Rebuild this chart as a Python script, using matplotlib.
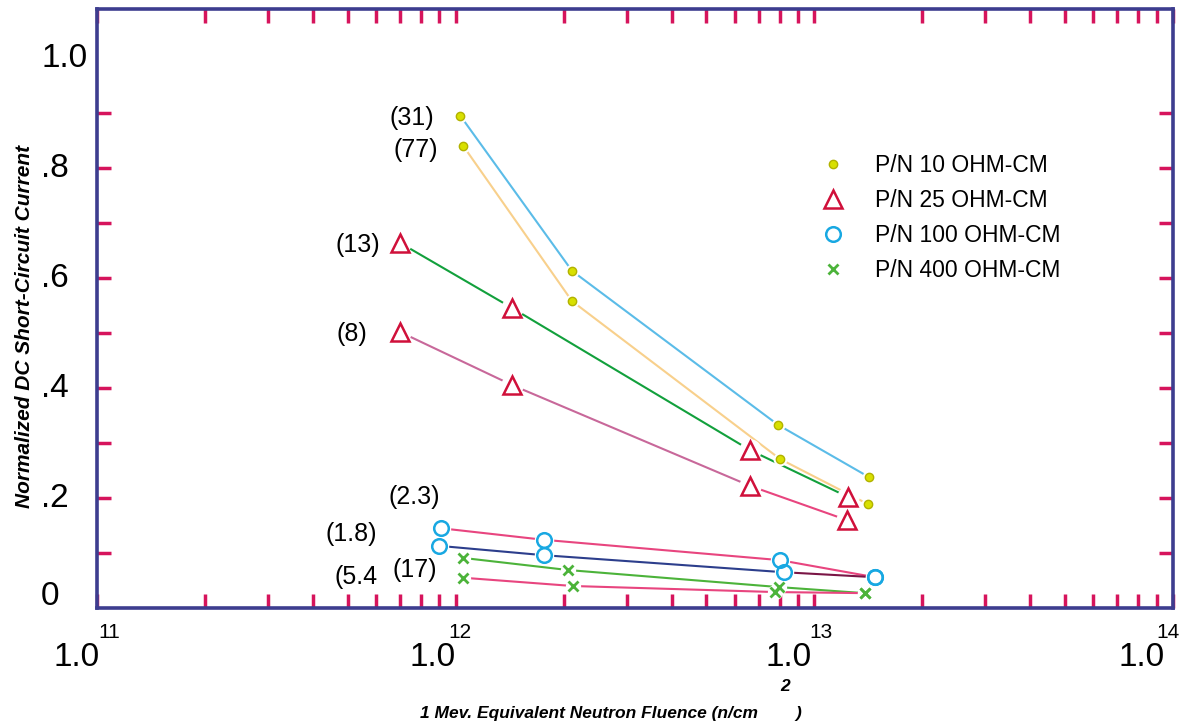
import numpy as np
import matplotlib
matplotlib.use("agg")
import matplotlib.pyplot as plt
from matplotlib.lines import Line2D
from matplotlib.ticker import NullFormatter

plt.rcParams['font.family'] = ['Liberation Sans', 'DejaVu Sans']

# fluence (n/cm^2) vs normalized DC short-circuit current
x10a = [1.03e12, 2.11e12, 7.92e12, 1.42e13]
y10a = [0.895, 0.613, 0.333, 0.238]
x10b = [1.05e12, 2.11e12, 8.02e12, 1.41e13]
y10b = [0.840, 0.558, 0.271, 0.189]
x25a = [6.99e11, 1.44e12, 6.62e12, 1.24e13]
y25a = [0.664, 0.545, 0.287, 0.202]
x25b = [6.99e11, 1.44e12, 6.62e12, 1.23e13]
y25b = [0.502, 0.405, 0.222, 0.160]
x100a = [9.10e11, 1.76e12, 8.02e12, 1.475e13]
y100a = [0.145, 0.124, 0.087, 0.056]
x100b = [8.98e11, 1.76e12, 8.23e12, 1.475e13]
y100b = [0.113, 0.096, 0.065, 0.056]
x400a = [1.05e12, 2.06e12, 7.97e12, 1.38e13]
y400a = [0.091, 0.069, 0.038, 0.027]
x400b = [1.05e12, 2.12e12, 7.77e12, 1.38e13]
y400b = [0.055, 0.040, 0.029, 0.027]

legend_labels = ['P/N 10 OHM-CM', 'P/N 25 OHM-CM', 'P/N 100 OHM-CM', 'P/N 400 OHM-CM']
run_labels = ['(31)', '(77)', '(13)', '(8)', '(2.3)', '(1.8)', '(17)', '(5.4']
ytick_vals = [0, 0.2, 0.4, 0.6, 0.8, 1.0]
ytick_text = ['0', '.2', '.4', '.6', '.8', '1.0']
xdecades = [11, 12, 13, 14]

PX = 0.72  # points per pixel at dpi 100
frame = '#3d3d8f'
tickc = '#d6145c'

# marker styles
dot = dict(marker='o', ms=6, mfc='#d8e000', mec='#b2b200', mew=1.0, ls='none')
tri = dict(marker='^', ms=13, mfc='none', mec='#d0103a', mew=1.8, ls='none')
circ = dict(marker='o', ms=10.5, mfc='none', mec='#18a8e2', mew=1.8, ls='none')
cross = dict(marker='x', ms=7.5, mec='#4cb33a', mew=2.0, ls='none')

series = [
    (x10a, y10a, ['#5bbce8'] * 3, dot, 9),
    (x10b, y10b, ['#f8d08c'] * 3, dot, 9),
    (x25a, y25a, ['#12a03c'] * 3, tri, 15),
    (x25b, y25b, ['#c8689a', '#c8689a', '#e8457f'], tri, 15),
    (x100a, y100a, ['#e8457f'] * 3, circ, 13),
    (x100b, y100b, ['#2c3e8c', '#2c3e8c', '#7a1545'], circ, 13),
    (x400a, y400a, ['#4cb33a'] * 3, cross, 10),
    (x400b, y400b, ['#e8457f'] * 3, cross, 10),
]

fig = plt.figure(figsize=(11.87, 7.21), dpi=100)
ax = fig.add_axes([97 / 1187, 113 / 721, 1076 / 1187, 599 / 721])
ax.set_xscale('log')
ax.set_xlim(1e11, 1e14)
ax.set_ylim(0, 1.089)

# line segments, a white halo to open small gaps, then the markers
for xs, ys, cols, mk, halo in series:
    for i in range(len(xs) - 1):
        ax.plot(xs[i:i + 2], ys[i:i + 2], color=cols[i], lw=1.5, zorder=2)
for xs, ys, cols, mk, halo in series:
    ax.plot(xs, ys, marker='o', ms=halo, mfc='white', mec='white', ls='none', zorder=3)
for xs, ys, cols, mk, halo in series:
    ax.plot(xs, ys, zorder=4, **mk)

# run labels beside the first point of each curve (offsets in pixels)
label_anchor = [(x10a, y10a, -26, 0), (x10b, y10b, -25, -2), (x25a, y25a, -20, 0),
                (x25b, y25b, -33, 0), (x100a, y100a, -1, 34), (x100b, y100b, -62, 14),
                (x400a, y400a, -26, -10), (x400b, y400b, -86, 3)]
for txt, (xs, ys, dx, dy) in zip(run_labels, label_anchor):
    ax.annotate(txt, (xs[0], ys[0]), xytext=(dx * PX, dy * PX), textcoords='offset points',
                ha='right', va='center_baseline', fontsize=18)

# frame and ticks
for s in ax.spines.values():
    s.set_color(frame)
    s.set_linewidth(2.6)
ax.set_xticks([10.0 ** d for d in xdecades])
ax.set_xticklabels([])
ax.xaxis.set_minor_formatter(NullFormatter())
ax.set_yticks(np.arange(1, 10) / 10)
ax.set_yticklabels([])
ax.tick_params(which='both', direction='in', length=10, width=2.5, color=tickc,
               top=True, right=True, labelbottom=False, labelleft=False)

# decade labels "1.0" with raised exponent; pixel nudges follow the original
base_dx = [3, 0, -3, -8]
sup_dx = [1, -7, -5, -17]
for d, bdx, sdx in zip(xdecades, base_dx, sup_dx):
    ax.annotate('1.0', (10.0 ** d, 0), xycoords=('data', 'axes fraction'),
                xytext=(bdx * PX, -46 * PX), textcoords='offset points',
                ha='right', va='center_baseline', fontsize=24)
    ax.annotate(str(d), (10.0 ** d, 0), xycoords=('data', 'axes fraction'),
                xytext=(sdx * PX, -23 * PX), textcoords='offset points',
                ha='left', va='center_baseline', fontsize=15)

for v, t in zip(ytick_vals, ytick_text):
    dy = 15 if v == 0 else 3
    ax.annotate(t, (0, v), xycoords=('axes fraction', 'data'),
                xytext=(-56 * PX, dy * PX), textcoords='offset points',
                ha='left', va='center_baseline', fontsize=24)

# axis titles
fig.text(758 / 1187, 1 - 712 / 721, '1 Mev. Equivalent Neutron Fluence (n/cm',
         ha='right', va='center_baseline', fontsize=12.5, fontweight='bold', fontstyle='italic')
fig.text(785 / 1187, 1 - 685 / 721, '2', ha='center', va='center_baseline',
         fontsize=12.5, fontweight='bold', fontstyle='italic')
fig.text(798 / 1187, 1 - 712 / 721, ')', ha='center', va='center_baseline',
         fontsize=12.5, fontweight='bold', fontstyle='italic')
fig.text(25 / 1187, 1 - 326 / 721, 'Normalized DC Short-Circuit Current', rotation=90,
         ha='center', va='center', fontsize=15, fontweight='bold', fontstyle='italic')

handles = [Line2D([], [], **dot), Line2D([], [], **tri), Line2D([], [], **circ), Line2D([], [], **cross)]
ax.legend(handles, legend_labels, loc='upper left', bbox_to_anchor=(0.673, 0.758),
          frameon=False, fontsize=16.5, handlelength=1.0, handletextpad=1.35,
          labelspacing=0.52, borderpad=0, borderaxespad=0)

fig.savefig('out.png', dpi=100)
